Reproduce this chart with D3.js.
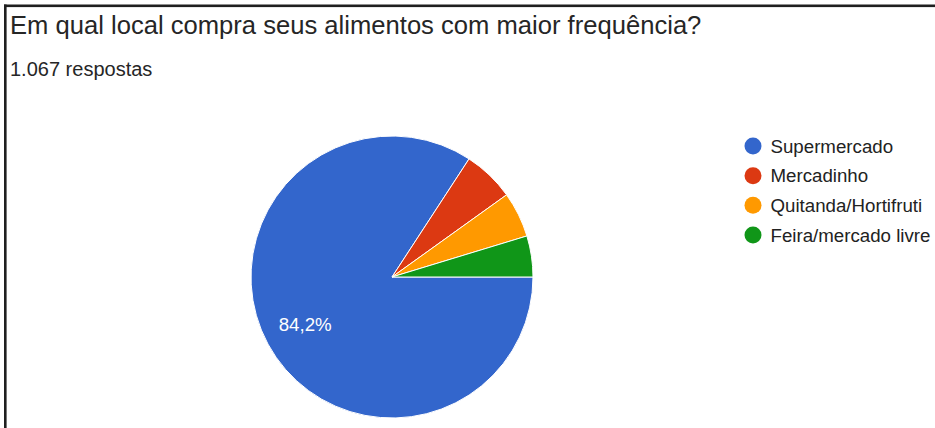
<!DOCTYPE html>
<html>
<head>
<meta charset="utf-8">
<script src="https://cdn.jsdelivr.net/npm/d3@7"></script>
<style>
  html, body { margin: 0; padding: 0; background: #fff; }
  svg { display: block; }
</style>
</head>
<body>
<svg id="chart" width="935" height="428"></svg>
<script>
// Survey answers: where people buy their food most often
const categories = ["Supermercado", "Mercadinho", "Quitanda/Hortifruti", "Feira/mercado livre"];
const shares = [84.2, 5.9, 5.2, 4.7];
const colors = ["#3366cc", "#dc3912", "#ff9900", "#109618"];
const titleText = "Em qual local compra seus alimentos com maior frequência?";
const subtitleText = "1.067 respostas";

const svg = d3.select("#chart");

// frame lines along the top and left
svg.append("rect").attr("x", 4).attr("y", 4.5).attr("width", 931).attr("height", 2.6).attr("fill", "#1f1f1f");
svg.append("rect").attr("x", 4).attr("y", 4.5).attr("width", 2.6).attr("height", 424).attr("fill", "#1f1f1f");

svg.append("text")
  .attr("x", 10).attr("y", 34)
  .attr("font-family", "Arial, 'Liberation Sans', sans-serif")
  .attr("font-size", 25.6)
  .attr("fill", "#262626")
  .text(titleText);

svg.append("text")
  .attr("x", 10).attr("y", 76)
  .attr("font-family", "Arial, 'Liberation Sans', sans-serif")
  .attr("font-size", 20)
  .attr("fill", "#262626")
  .text(subtitleText);

const cx = 392, cy = 277, radius = 141;
const color = d3.scaleOrdinal().domain(categories).range(colors);

const pie = d3.pie()
  .sort(null)
  .value((d, i) => shares[i])
  .startAngle(Math.PI / 2)
  .endAngle(Math.PI / 2 + 2 * Math.PI);

const arcs = pie(categories);
const arc = d3.arc().innerRadius(0).outerRadius(radius);
const labelArc = d3.arc().innerRadius(radius * 0.7).outerRadius(radius * 0.7);

const g = svg.append("g").attr("transform", `translate(${cx},${cy})`);

g.selectAll("path")
  .data(arcs)
  .join("path")
  .attr("d", arc)
  .attr("fill", d => color(d.data))
  .attr("stroke", "#fff")
  .attr("stroke-width", 1);

// only slices wide enough carry a value label
g.selectAll("text")
  .data(arcs.filter((d, i) => shares[i] > 10))
  .join("text")
  .attr("transform", d => `translate(${labelArc.centroid(d)})`)
  .attr("text-anchor", "middle")
  .attr("dy", "0.35em")
  .attr("font-family", "Arial, 'Liberation Sans', sans-serif")
  .attr("font-size", 18.7)
  .attr("fill", "#fff")
  .text(d => shares[categories.indexOf(d.data)].toFixed(1).replace(".", ",") + "%");

// legend
const legendY = d3.scalePoint().domain(categories).range([146, 235]);
const legend = svg.append("g");
const items = legend.selectAll("g")
  .data(categories)
  .join("g")
  .attr("transform", d => `translate(753,${legendY(d)})`);

items.append("circle")
  .attr("r", 8.5)
  .attr("fill", d => color(d));

items.append("text")
  .attr("x", 17.5)
  .attr("dy", "0.35em")
  .attr("font-family", "Arial, 'Liberation Sans', sans-serif")
  .attr("font-size", 18.7)
  .attr("fill", "#222")
  .text(d => d);
</script>
</body>
</html>
